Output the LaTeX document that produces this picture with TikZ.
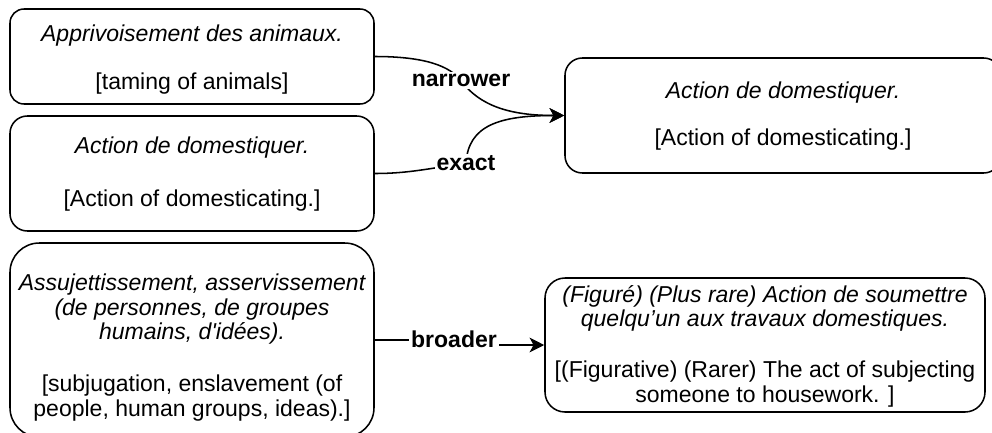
\documentclass[tikz,border=0pt]{standalone}
\usepackage{fontspec}
\newfontfamily\lsans{Liberation Sans}
\usetikzlibrary{arrows.meta}
\pgfdeclarelayer{bg}
\pgfsetlayers{bg,main}
\tikzset{
  box/.style={draw=black, line width=1.15pt, fill=white, inner sep=0pt},
  txt/.style={anchor=mid, inner sep=0pt},
  lbl/.style={font=\lsans\bfseries\fontsize{17.25pt}{20pt}\selectfont, fill=white, inner sep=1.5pt, anchor=mid},
  conn/.style={line width=1.15pt, draw=black},
  tip/.style={-{Stealth[length=11pt,width=11pt,inset=3pt]}}
}
\begin{document}
\begin{tikzpicture}[x=0.75pt,y=-0.75pt,font=\lsans\fontsize{17.25pt}{20pt}\selectfont]
\useasboundingbox (0,0) rectangle (992,432);
\clip (0,0) rectangle (992,432);
% boxes
\node[box, rounded corners=10.5pt, minimum width=273pt, minimum height=71.25pt] (A) at (192,56.5) {};
\node[box, rounded corners=13pt, minimum width=273pt, minimum height=86.25pt] (B) at (192,173.5) {};
\node[box, rounded corners=13pt, minimum width=327pt, minimum height=86.25pt] (C) at (783,115.5) {};
\node[box, rounded corners=22pt, minimum width=273pt, minimum height=145.5pt] (D) at (192,340) {};
\node[box, rounded corners=15pt, minimum width=330pt, minimum height=100.5pt] (E) at (765,345) {};
% texts
\node[txt] (a1) at (192,39) {\itshape Apprivoisement des animaux.};
\node[txt] (a2) at (192,87) {[taming of animals]};
\node[txt] (b1) at (192,151) {\itshape Action de domestiquer.};
\node[txt] (b2) at (192,204) {[Action of domesticating.]};
\node[txt] (c1) at (783,96) {\itshape Action de domestiquer.};
\node[txt] (c2) at (783,143) {[Action of domesticating.]};
\node[txt] (d1) at (192,288) {\itshape Assujettissement, asservissement};
\node[txt] (d2) at (192,313) {\itshape (de personnes, de groupes};
\node[txt] (d3) at (192,337) {\itshape humains, d'idées).};
\node[txt] (d4) at (192,389) {[subjugation, enslavement (of};
\node[txt] (d5) at (192,414) {people, human groups, ideas).]};
\node[txt] (e1) at (765,300) {\itshape (Figuré) (Plus rare) Action de soumettre};
\node[txt] (e2) at (765,324) {\itshape quelqu’un aux travaux domestiques.};
\node[txt] (e3) at (765,375) {[(Figurative) (Rarer) The act of subjecting};
\node[txt] (e4) at (765,400) {someone to housework. ]};
% labels
\node[lbl] (nar) at (461,84) {narrower};
\node[lbl] (ex) at (466,168) {exact};
\node[lbl] (brd) at (454,345) {broader};
% connectors
\begin{pgfonlayer}{bg}
\draw[conn] (A.east) .. controls (425,56.5) and (450,66) .. (nar.center);
\draw[conn,tip] (nar.center) .. controls (480,106) and (510,115.5) .. (C.west);
\draw[conn] (B.east) .. controls (410,173.5) and (430,168) .. (ex.center);
\draw[conn,tip] (ex.center) .. controls (468,125) and (500,115.5) .. (C.west);
\draw[conn] (D.east) -- (D.east -| brd.center) -- (E.west -| brd.center);
\draw[conn,tip] (E.west -| brd.center) -- (E.west);
\end{pgfonlayer}
\end{tikzpicture}
\end{document}
